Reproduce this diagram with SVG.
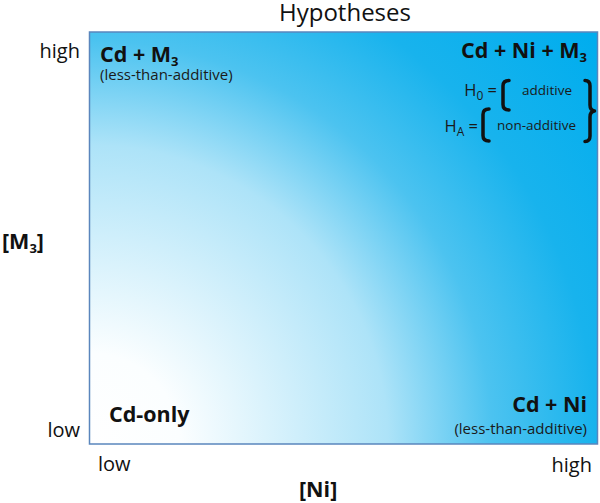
<svg xmlns="http://www.w3.org/2000/svg" width="600" height="503" viewBox="0 0 600 503">
<style>
text{font-family:"Open Sans","Noto Sans","Liberation Sans",sans-serif;fill:#111;}
.b{font-weight:bold;font-size:21.5px;}
.sub{font-size:13px;}
.ax{font-size:20px;}
.sm{font-size:15px;fill:#1a1a1a;}
.h{font-size:16.5px;fill:#1a1a1a;}
.hv{font-size:13.5px;fill:#1a1a1a;}
.br{fill:none;stroke:#111;stroke-width:3.5;stroke-linecap:round;stroke-linejoin:round;}
</style>
<defs>
<radialGradient id="bg" gradientUnits="userSpaceOnUse" cx="89" cy="444" r="650">
<stop offset="0" stop-color="#ffffff"/>
<stop offset="0.14" stop-color="#fbfeff"/>
<stop offset="0.46" stop-color="#ade3f8"/>
<stop offset="0.62" stop-color="#4cc3f0"/>
<stop offset="0.78" stop-color="#18b3ed"/>
<stop offset="1" stop-color="#00adee"/>
</radialGradient>
</defs>
<rect width="600" height="503" fill="#ffffff"/>
<g id="plot">
<rect x="89.5" y="32" width="508" height="412" fill="url(#bg)" stroke="#5a86bd" stroke-width="1.5"/>
</g>
<g id="title"><text x="345" y="21" text-anchor="middle" style="font-size:24px">Hypotheses</text></g>
<g id="yaxis">
<text class="ax" x="80" y="58" text-anchor="end">high</text>
<text class="ax" x="80" y="437" text-anchor="end">low</text>
<text class="b" x="2" y="249">[M<tspan class="sub" dy="4">3</tspan><tspan dy="-4">]</tspan></text>
</g>
<g id="xaxis">
<text class="ax" x="98" y="471">low</text>
<text class="ax" x="592" y="472" text-anchor="end">high</text>
<text class="b" x="299" y="497">[Ni]</text>
</g>
<g id="cd-m3">
<text class="b" x="100" y="62">Cd + M<tspan class="sub" dy="4">3</tspan></text>
<text class="sm" x="100" y="80">(less-than-additive)</text>
</g>
<g id="cd-ni-m3">
<text class="b" x="587" y="58" text-anchor="end">Cd + Ni + M<tspan class="sub" dy="4">3</tspan></text>
<text class="h" x="497" y="96" text-anchor="end">H<tspan dy="4" style="font-size:12px">0</tspan><tspan dy="-4"> =</tspan></text>
<text class="hv" x="522" y="95">additive</text>
<text class="h" x="478" y="132" text-anchor="end">H<tspan dy="4" style="font-size:12px">A</tspan><tspan dy="-4"> =</tspan></text>
<text class="hv" x="497" y="130">non-additive</text>
<path class="br" d="M509,80.5 Q503,80.5 503,86 L503,104.5 Q503,110 509,110"/>
<path class="br" d="M489,109 Q483,109 483,114.5 L483,135.5 Q483,141 489,141"/>
<path class="br" d="M585,80.5 Q590,80.5 590,86 L590,105 Q590,110.5 594.5,111 Q590,111.5 590,117 L590,136 Q590,141.5 585,141.5"/>
</g>
<g id="cd-only">
<text class="b" x="109" y="422">Cd-only</text>
</g>
<g id="cd-ni">
<text class="b" x="587" y="412" text-anchor="end">Cd + Ni</text>
<text class="sm" x="587" y="434" text-anchor="end">(less-than-additive)</text>
</g>
</svg>
